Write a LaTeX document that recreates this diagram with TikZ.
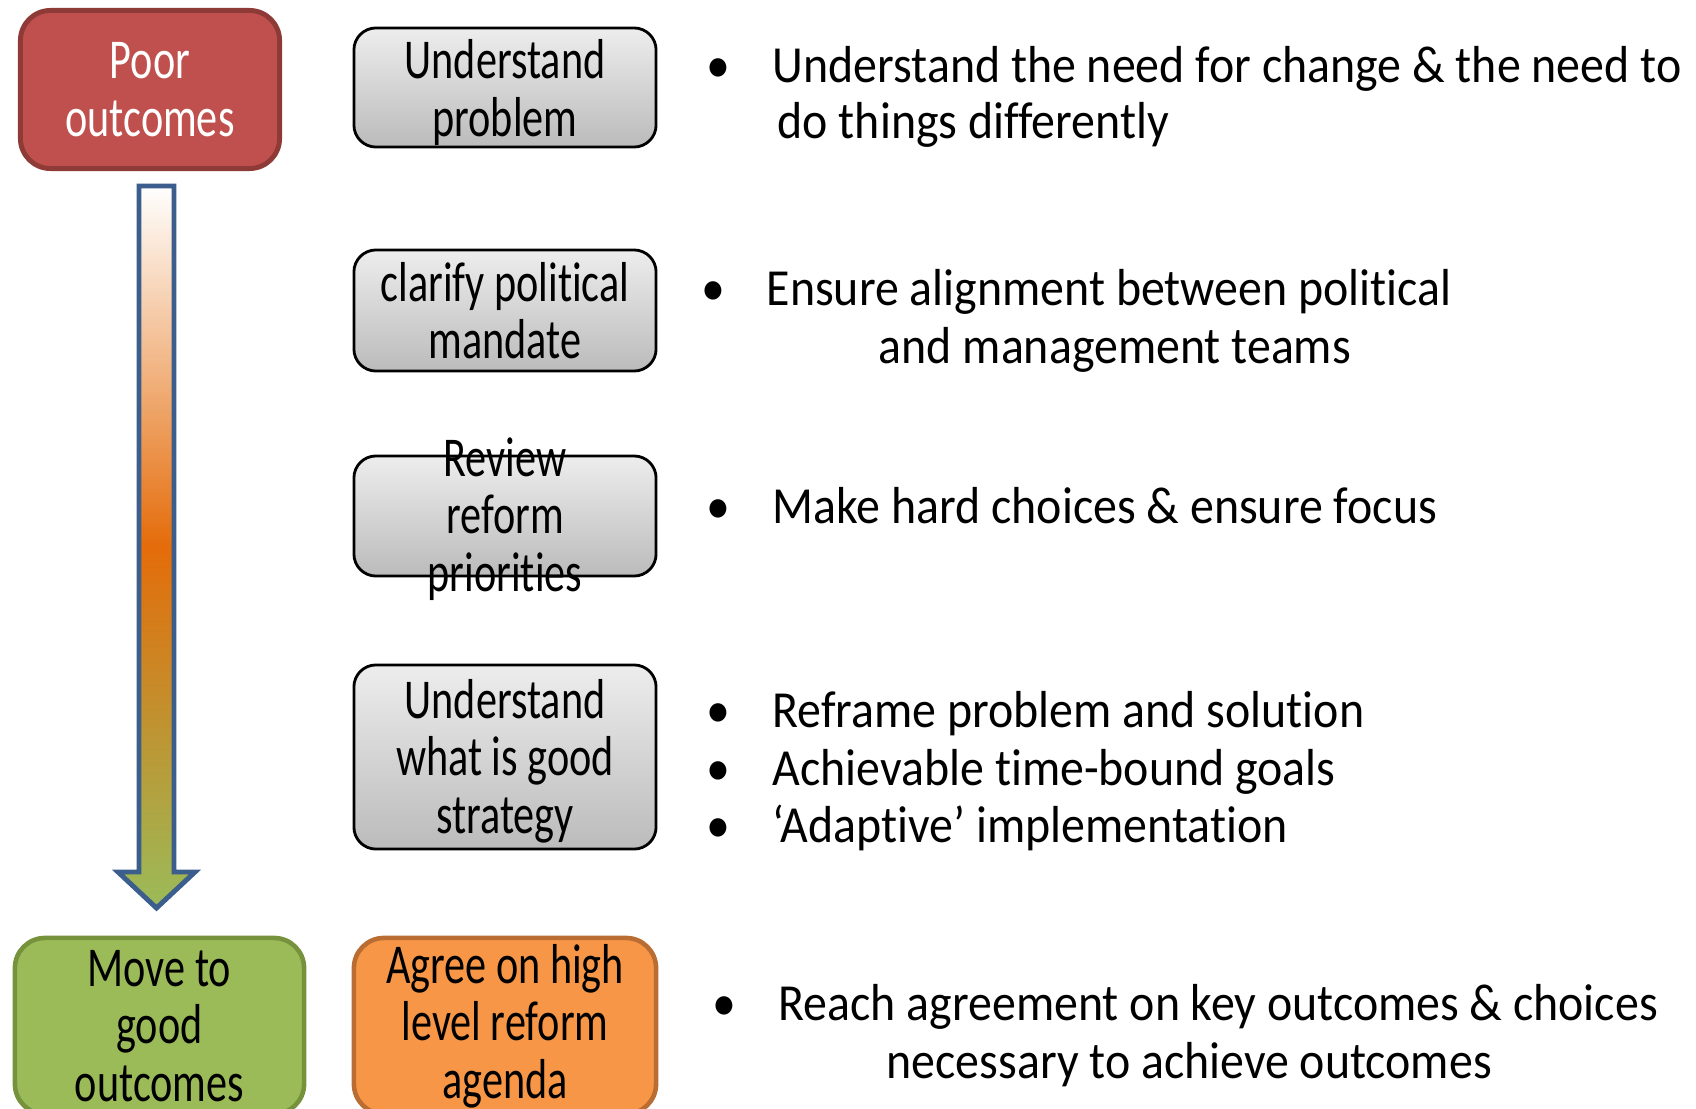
\documentclass[tikz,border=0pt]{standalone}
\usepackage{fontspec}
\setmainfont{Carlito}
\newfontfamily\boxfont[FakeStretch=0.75,Ligatures=NoCommon]{Carlito}
\newfontfamily\pointfont[FakeStretch=0.92,Ligatures=NoCommon]{Carlito}
\definecolor{poorfill}{HTML}{C0504D}
\definecolor{poorline}{HTML}{8E3B38}
\definecolor{graytop}{HTML}{EDEDED}
\definecolor{graybot}{HTML}{BBBBBB}
\definecolor{goodfill}{HTML}{9BBB59}
\definecolor{goodline}{HTML}{76923C}
\definecolor{agendafill}{HTML}{F79646}
\definecolor{agendaline}{HTML}{B96D33}
\definecolor{arrowline}{HTML}{3B5E8C}
\definecolor{arrowmid}{HTML}{E46C0A}
\begin{document}
\begin{tikzpicture}[x=0.01cm,y=-0.01cm,
		boxtext/.style={align=center,inner sep=0pt,font={\boxfont\fontsize{16}{16.3}\selectfont}},
		stage/.style={boxtext,draw=black,line width=0.8pt,rounded corners=0.22cm,top color=graytop,bottom color=graybot,minimum width=3.02cm},
		endbox/.style={boxtext,line width=1.3pt,rounded corners=0.3cm,minimum height=1.76cm},
		point/.style={anchor=base west,inner sep=0pt,font={\pointfont\fontsize{14.8}{17}\selectfont}},
		bulletdot/.style={anchor=base,inner sep=0pt,font={\pointfont\fontsize{14.8}{17}\selectfont}}]
		\useasboundingbox (0,0) rectangle (1696,1109);
		% left column
		\node[endbox,draw=poorline,line width=1.4pt,fill=poorfill,text=white,minimum width=2.59cm,minimum height=1.58cm] at (150,89.5) (poor) {Poor\\outcomes};
		\node[endbox,draw=goodline,fill=goodfill,minimum width=2.89cm] at (159.5,1026) (good) {Move to\\good\\outcomes};
		\draw[arrowline,line width=1.4pt,top color=white,bottom color=goodfill,middle color=arrowmid] (139,186) -- (174,186) -- (174,872) -- (195,872) -- (156.5,908) -- (118,872) -- (139,872) -- cycle;
		% middle column
		\node[stage,minimum height=1.19cm] at (505,87.5) (problem) {};
		\node[boxtext] at ([yshift=-0.05cm]problem) (problemtext) {Understand\\problem};
		\node[stage,minimum height=1.21cm] at (505,310.5) (mandate) {clarify political\\mandate};
		\node[stage,minimum height=1.2cm] at (505,516) (review) {};
		\node[boxtext] at ([yshift=-0.03cm]review) (reviewtext) {Review\\reform\\priorities};
		\node[stage,minimum height=1.84cm] at (505,757) (strategy) {};
		\node[boxtext] at ([yshift=-0.04cm]strategy) (strategytext) {Understand\\what is good\\strategy};
		\node[endbox,draw=agendaline,fill=agendafill,minimum width=3.02cm] at (505,1026) (agenda) {Agree on high\\level reform\\agenda};
		% right column
		\node[bulletdot] at (718,82) (d1) {•};
		\node[point] at (772,82) (p1) {Understand the need for change \& the need to};
		\node[point] at (777,138) (p1b) {do things differently};
		\node[bulletdot] at (713,305) (d2) {•};
		\node[point] at (766,305) (p2) {Ensure alignment between political};
		\node[point] at (878,363) (p2b) {and management teams};
		\node[bulletdot] at (718,523) (d3) {•};
		\node[point] at (772,523) (p3) {Make hard choices \& ensure focus};
		\node[bulletdot] at (718,727) (d4) {•};
		\node[point] at (772,727) (p4) {Reframe problem and solution};
		\node[bulletdot] at (718,785) (d5) {•};
		\node[point] at (772,785) (p5) {Achievable time-bound goals};
		\node[bulletdot] at (718,842) (d6) {•};
		\node[point] at (772,842) (p6) {‘Adaptive’ implementation};
		\node[bulletdot] at (724,1020) (d7) {•};
		\node[point] at (778,1020) (p7) {Reach agreement on key outcomes \& choices};
		\node[point] at (886,1078) (p7b) {necessary to achieve outcomes};
	\end{tikzpicture}
\end{document}
